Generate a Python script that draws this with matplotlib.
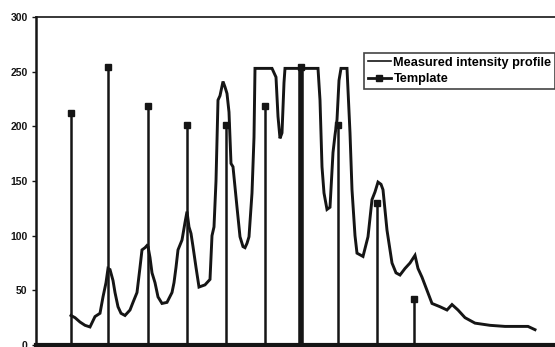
import matplotlib
matplotlib.use("Agg")
import matplotlib.pyplot as plt
from matplotlib.lines import Line2D

plt.rcParams['font.family'] = ['Liberation Sans', 'DejaVu Sans']

# Measured intensity profile (position, intensity)
profile_x = [35, 39, 44, 49, 54, 59, 64, 67, 70, 72, 74, 77, 79, 82, 85, 89, 94, 97, 101, 104,
             106, 109, 111, 112, 114, 116, 119, 122, 126, 131, 136, 138, 140, 142, 146, 149, 151,
             153, 155, 157, 160, 163, 169, 174, 176, 178, 180, 182, 184, 187, 189, 191, 193, 195,
             197, 201, 204, 207, 209, 211, 213, 216, 218, 219, 236, 240, 242, 244, 246, 248, 249,
             282, 284, 286, 288, 291, 294, 297, 299, 301, 303, 305, 311, 314, 316, 319, 321, 327,
             332, 336, 339, 342, 345, 347, 351, 356, 360, 364, 369, 374, 379, 382, 386, 391, 396,
             404, 411, 416, 422, 429, 439, 454, 469, 484, 492, 499]
profile_y = [27, 25, 21, 18, 16.5, 26, 29, 44, 57, 70, 69, 59, 48, 35, 29, 27, 32, 39, 48, 71,
             87, 89, 91, 90, 80, 66, 57, 44, 38, 39, 48, 57, 71, 87, 96, 112, 122,
             108, 102, 90, 71, 53, 55, 60, 100, 108, 150, 224, 228, 241, 236, 230, 213, 166,
             163, 126, 99, 90, 89, 93, 99, 139, 190, 253, 253, 245, 209, 189, 194, 240, 253,
             253, 224, 163, 139, 124, 126, 176, 192, 206, 242, 253, 253, 194, 142, 100, 84, 81,
             99, 133, 140, 149, 147, 142, 105, 75, 66, 64, 70, 75, 82, 70, 62, 50, 38,
             35, 32, 37, 32, 25, 20, 18, 17, 17, 17, 14]

# Template peaks
template_x = [35, 72, 112, 151, 190, 229, 265, 302, 341, 378]
template_y = [212, 254, 219, 201, 201, 219, 254, 201, 130, 42]

y_ticks = [0, 50, 100, 150, 200, 250, 300]

fig = plt.figure(figsize=(5.55, 3.47), dpi=100)
fig.patch.set_facecolor('white')
W, H = 555.0, 347.0
ax = fig.add_axes([36 / W, 2 / H, (620 - 36) / W, (345 - 17) / H])
ax.set_xlim(0, 584)
ax.set_ylim(0, 300)

# template stems
for tx, ty in zip(template_x, template_y):
    lw = 4.0 if ty == 254 and tx == 265 else 1.8
    ax.plot([tx, tx], [0, ty], color='#151515', lw=lw, solid_capstyle='butt', zorder=2)
ax.plot(template_x, template_y, linestyle='none', marker='s', markersize=5,
        color='#151515', zorder=3)

# measured profile
ax.plot(profile_x, profile_y, color='#151515', lw=2.1, zorder=4, solid_joinstyle='miter')

ax.set_yticks(y_ticks)
ax.set_yticklabels([str(t) for t in y_ticks], fontsize=7.5, fontweight='bold')
ax.set_xticks([])
ax.tick_params(axis='y', direction='out', length=3, width=1, pad=3, colors='#151515')
ax.spines['left'].set_linewidth(1.8)
ax.spines['bottom'].set_linewidth(3)
ax.spines['top'].set_linewidth(1.2)
ax.spines['right'].set_visible(False)
for s in ax.spines.values():
    s.set_color('#151515')

handles = [Line2D([], [], color='#151515', lw=1.2),
           Line2D([], [], color='#151515', lw=2.0, marker='s', markersize=5)]
leg = fig.legend(handles, ['Measured intensity profile', 'Template'],
                 loc='upper left', bbox_to_anchor=(364 / W, 1 - 53 / H),
                 prop={'size': 9.2, 'weight': 'bold'}, frameon=True, fancybox=False,
                 borderpad=0.3, handlelength=1.8, handletextpad=0.2, labelspacing=0.35,
                 borderaxespad=0)
leg.get_frame().set_edgecolor('#151515')
leg.get_frame().set_linewidth(1.2)

fig.savefig('out.png', dpi=100, facecolor='white')
